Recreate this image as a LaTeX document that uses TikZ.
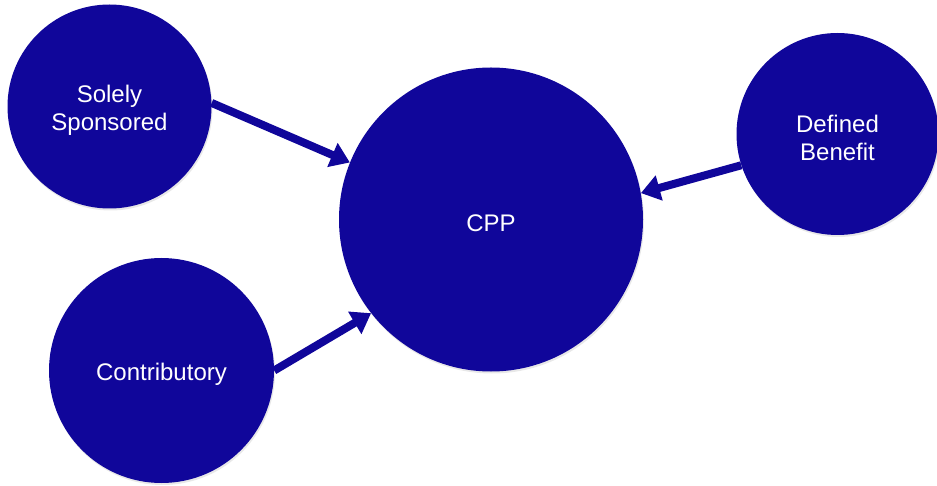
\documentclass[tikz,border=0pt]{standalone}
\usepackage{fontspec}
\setmainfont{Liberation Sans}
\usetikzlibrary{arrows.meta,shadows}
\definecolor{navy}{RGB}{16,6,154}
\tikzset{
  bubble/.style={circle, fill=navy, draw=none, inner sep=0pt,
    drop shadow={opacity=0.18, shadow xshift=1pt, shadow yshift=-2pt}},
  btext/.style={text=white, align=center, inner sep=0pt, yshift=-3.5pt,
    font=\fontsize{24}{28}\selectfont},
  link/.style={navy, line width=8pt, -{Triangle[length=19pt,width=25pt]}}
}
\begin{document}
\begin{tikzpicture}[x=1pt,y=1pt]
\useasboundingbox (0,0) rectangle (937,485);
\node[bubble, minimum size=204pt, label={[btext]center:Solely\\Sponsored}] (S) at (109.5,378.5) {};
\node[bubble, minimum size=225pt, label={[btext]center:Contributory}] (Co) at (161.5,114.5) {};
\node[bubble, minimum size=304pt, label={[btext]center:CPP}] (C) at (491,265.5) {};
\node[bubble, minimum size=202pt, label={[btext]center:Defined\\Benefit}] (D) at (837.5,351) {};
\draw[link] (S.2) -- (C.158);
\draw[link] (Co.0) -- (C.218);
\draw[link] (D.198) -- (C.10);
\end{tikzpicture}
\end{document}
